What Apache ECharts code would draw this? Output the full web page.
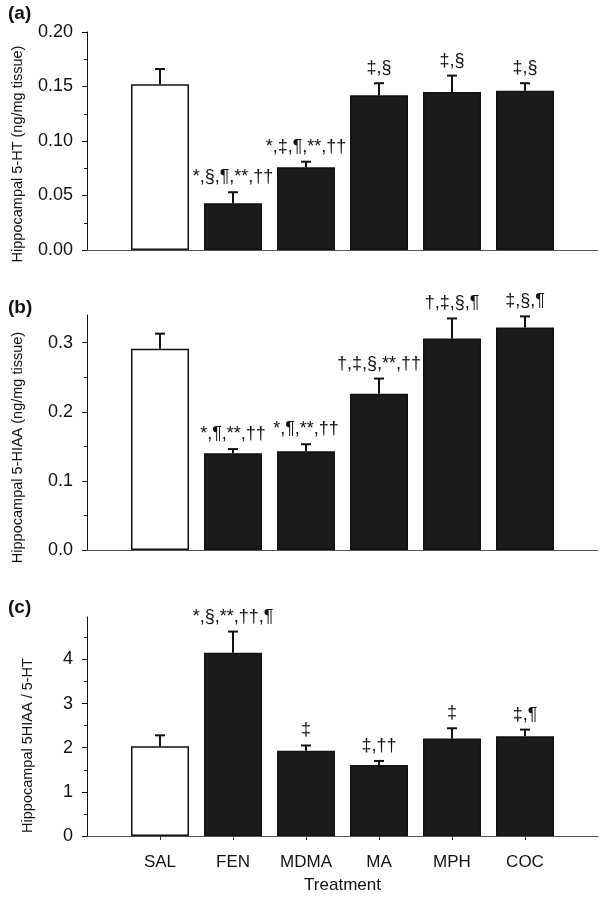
<!DOCTYPE html>
<html>
<head>
<meta charset="utf-8">
<script src="https://cdn.jsdelivr.net/npm/echarts@6/dist/echarts.min.js"></script>
<style>
  html, body { margin: 0; padding: 0; background: #fff; }
  #main { width: 605px; height: 900px; }
</style>
</head>
<body>
<div id="main"></div>
<script>
const FONT = 'Liberation Sans, Arial, sans-serif';

const categories = ['SAL', 'FEN', 'MDMA', 'MA', 'MPH', 'COC'];

// (a) hippocampal 5-HT
const ht5 = [0.152, 0.043, 0.076, 0.142, 0.145, 0.146];
const ht5Err = [0.014, 0.010, 0.005, 0.011, 0.015, 0.007];
const ht5Notes = ['', '*,§,¶,**,††', '*,‡,¶,**,††', '‡,§', '‡,§', '‡,§'];

// (b) hippocampal 5-HIAA
const hiaa = [0.291, 0.140, 0.143, 0.226, 0.306, 0.322];
const hiaaErr = [0.022, 0.006, 0.010, 0.022, 0.029, 0.016];
const hiaaNotes = ['', '*,¶,**,††', '*,¶,**,††', '†,‡,§,**,††', '†,‡,§,¶', '‡,§,¶'];

// (c) 5-HIAA / 5-HT ratio
const ratio = [2.03, 4.15, 1.93, 1.61, 2.21, 2.26];
const ratioErr = [0.25, 0.48, 0.12, 0.09, 0.23, 0.15];
const ratioNotes = ['', '*,§,**,††,¶', '‡', '‡,††', '‡', '‡,¶'];

const ticksA = [0, 0.05, 0.10, 0.15, 0.20];
const minorA = [0.025, 0.075, 0.125, 0.175];
const ticksB = [0, 0.1, 0.2, 0.3];
const minorB = [0.05, 0.15, 0.25];
const ticksC = [0, 1, 2, 3, 4];
const minorC = [0.5, 1.5, 2.5, 3.5, 4.5];

// empty slot on each side so the axis runs half a band past the outer bars
const xCats = [''].concat(categories, ['']);

const chart = echarts.init(document.getElementById('main'));

const grids = [
  { left: 87, right: 7, top: 32, height: 218 },
  { left: 87, right: 7, top: 315, height: 235 },
  { left: 87, right: 7, top: 617, height: 219 }
];

function xAxisFor(i, last) {
  return {
    type: 'category',
    gridIndex: i,
    data: xCats,
    boundaryGap: false,
    axisLine: { lineStyle: { color: '#555', width: 1 } },
    axisTick: {
      show: last,
      length: 4,
      lineStyle: { color: '#333' },
      interval: function (idx) { return idx > 0 && idx < xCats.length - 1; }
    },
    axisLabel: {
      show: last,
      interval: 0,
      margin: 18,
      color: '#111',
      fontFamily: FONT,
      fontSize: 17
    },
    name: last ? 'Treatment' : '',
    nameLocation: 'middle',
    nameGap: 41,
    nameTextStyle: { color: '#111', fontFamily: FONT, fontSize: 17 }
  };
}

function yAxesFor(i, max, majors, minors, digits, name, gap, shift) {
  const main = {
    type: 'value',
    gridIndex: i,
    position: 'left',
    min: 0,
    max: max,
    splitLine: { show: false },
    axisLine: { show: true, lineStyle: { color: '#111', width: 1 } },
    axisTick: { show: true, length: 5, customValues: majors, lineStyle: { color: '#111' } },
    axisLabel: {
      customValues: majors,
      margin: 14,
      color: '#111',
      fontFamily: FONT,
      fontSize: 18,
      formatter: function (v) { return v.toFixed(digits); }
    },
    name: name,
    nameLocation: 'middle',
    nameGap: gap,
    nameTextStyle: {
      color: '#111',
      fontFamily: FONT,
      fontSize: 14.5,
      padding: [0, shift, 0, 0]
    }
  };
  const minor = {
    type: 'value',
    gridIndex: i,
    position: 'left',
    offset: 0,
    min: 0,
    max: max,
    splitLine: { show: false },
    axisLine: { show: false },
    axisTick: { show: true, length: 3, customValues: minors, lineStyle: { color: '#111' } },
    axisLabel: { show: false }
  };
  return [main, minor];
}

function barSeries(i, values) {
  return {
    type: 'bar',
    xAxisIndex: i,
    yAxisIndex: i * 2,
    barWidth: 58,
    data: [null].concat(values.map(function (v, k) {
      return {
        value: v,
        itemStyle: {
          color: k === 0 ? '#ffffff' : '#1c1a1a',
          borderColor: '#111',
          borderWidth: 1.5
        }
      };
    }), [null]),
    z: 2
  };
}

function errSeries(i, values, errs, notes) {
  return {
    type: 'custom',
    xAxisIndex: i,
    yAxisIndex: i * 2,
    clip: false,
    z: 3,
    data: values.map(function (v, k) { return [k + 1, v, v + errs[k]]; }),
    encode: { x: 0, y: [1, 2] },
    renderItem: function (params, api) {
      const idx = api.value(0);
      const base = api.coord([idx, api.value(1)]);
      const top = api.coord([idx, api.value(2)]);
      const note = notes[params.dataIndex];
      const style = { stroke: '#111', lineWidth: 2 };
      const children = [
        { type: 'line', shape: { x1: base[0], y1: base[1], x2: top[0], y2: top[1] }, style: style },
        { type: 'line', shape: { x1: top[0] - 5, y1: top[1], x2: top[0] + 5, y2: top[1] }, style: style }
      ];
      if (note) {
        children.push({
          type: 'text',
          x: top[0],
          y: top[1] - 6,
          style: {
            text: note,
            align: 'center',
            verticalAlign: 'bottom',
            fill: '#111',
            font: '18px ' + FONT
          }
        });
      }
      return { type: 'group', children: children };
    }
  };
}

const panelLetters = ['(a)', '(b)', '(c)'];
const letterTops = [4, 298, 598];

chart.setOption({
  animation: false,
  backgroundColor: '#fff',
  grid: grids,
  xAxis: [xAxisFor(0, false), xAxisFor(1, false), xAxisFor(2, true)],
  yAxis: []
    .concat(yAxesFor(0, 0.2, ticksA, minorA, 2, 'Hippocampal 5-HT (ng/mg tissue)', 62, 26))
    .concat(yAxesFor(1, 0.34, ticksB, minorB, 1, 'Hippocampal 5-HIAA (ng/mg tissue)', 62, 30))
    .concat(yAxesFor(2, 4.96, ticksC, minorC, 0, 'Hippocampal 5HIAA / 5-HT', 52, 38)),
  series: [
    barSeries(0, ht5), errSeries(0, ht5, ht5Err, ht5Notes),
    barSeries(1, hiaa), errSeries(1, hiaa, hiaaErr, hiaaNotes),
    barSeries(2, ratio), errSeries(2, ratio, ratioErr, ratioNotes)
  ],
  graphic: panelLetters.map(function (t, i) {
    return {
      type: 'text',
      left: 8,
      top: letterTops[i],
      style: { text: t, fill: '#111', font: 'bold 19px ' + FONT }
    };
  })
});
</script>
</body>
</html>
